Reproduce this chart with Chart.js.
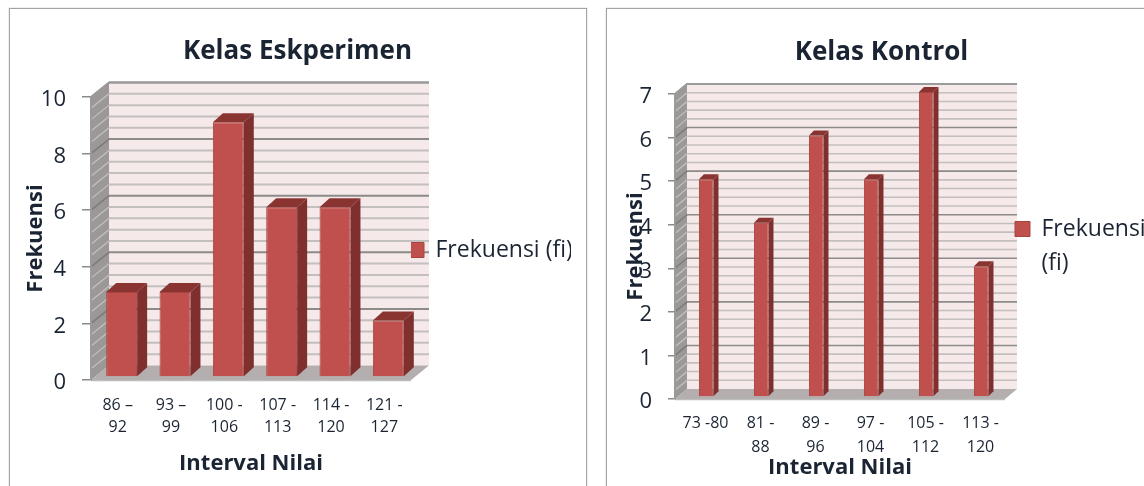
<!DOCTYPE html>
<html>
<head>
<meta charset="utf-8">
<title>Kelas Eskperimen dan Kelas Kontrol</title>
<script src="https://cdn.jsdelivr.net/npm/chart.js@4"></script>
<style>
  html, body { margin: 0; padding: 0; background: #fff; width: 1144px; height: 486px; overflow: hidden; }
  .frame { position: absolute; top: 8px; height: 500px; border: 1px solid #a3a3a3; box-shadow: 0 0 1px #a3a3a3; background: #fff; }
  canvas { position: absolute; top: 10px; filter: blur(0.35px); }
</style>
</head>
<body>
<div class="frame" style="left:9px;width:576px"></div>
<div class="frame" style="left:606px;width:600px"></div>
<canvas id="eksperimen" width="575" height="480" style="left:10px"></canvas>
<canvas id="kontrol" width="549" height="484" style="left:607px"></canvas>
<script>
// Kelas Eskperimen
const eksCategories = [["86 –", "92"], ["93 –", "99"], ["100 -", "106"], ["107 -", "113"], ["114 -", "120"], ["121 -", "127"]];
const eksValues = [3, 3, 9, 6, 6, 2];

// Kelas Kontrol
const konCategories = ["73 -80", ["81 -", "88"], ["89 -", "96"], ["97 -", "104"], ["105 -", "112"], ["113 -", "120"]];
const konValues = [5, 4, 6, 5, 7, 3];

const textColor = "#1b2433";
const fontName = "'Open Sans', Lato, sans-serif";

// Draws the walls and floor under everything, and the bar sides and tops after the bars
const box3d = {
  id: "box3d",
  beforeDraw(chart, args, opts) {
    const ctx = chart.ctx;
    const area = chart.chartArea;
    const y = chart.scales.y;
    const dx = opts.wallX;
    const dy = opts.wallY;

    function poly(points, fill) {
      ctx.beginPath();
      points.forEach((p, i) => (i ? ctx.lineTo(p[0], p[1]) : ctx.moveTo(p[0], p[1])));
      ctx.closePath();
      ctx.fillStyle = fill;
      ctx.fill();
    }

    ctx.save();
    // back wall
    poly([[area.left + dx, area.top - dy], [area.right + dx, area.top - dy], [area.right + dx, area.bottom - dy], [area.left + dx, area.bottom - dy]], "#f5e9e9");
    // left wall
    poly([[area.left, area.top], [area.left + dx, area.top - dy], [area.left + dx, area.bottom - dy], [area.left, area.bottom]], "#9c9898");

    // grid lines on both walls
    for (let v = y.max; v > 0.001; v -= opts.minorStep) {
      const py = y.getPixelForValue(v);
      const isMajor = Math.abs(v / y.options.ticks.stepSize - Math.round(v / y.options.ticks.stepSize)) < 0.001;
      ctx.lineWidth = opts.lineWidth;
      ctx.strokeStyle = isMajor ? "#8d8a8a" : "#c3bfbf";
      ctx.beginPath();
      ctx.moveTo(area.left + dx, py - dy);
      ctx.lineTo(area.right + dx, py - dy);
      ctx.stroke();
      ctx.strokeStyle = isMajor ? "#7d7a7a" : "#c4c1c1";
      ctx.lineWidth = isMajor ? 1.5 : 1.2;
      ctx.beginPath();
      ctx.moveTo(area.left, py);
      ctx.lineTo(area.left + dx, py - dy);
      ctx.stroke();
    }

    // floor
    poly([[area.left, area.bottom], [area.right, area.bottom], [area.right + dx, area.bottom - dy], [area.left + dx, area.bottom - dy]], "#b5aeae");
    ctx.strokeStyle = "#bdbdbd";
    ctx.lineWidth = 1.5;
    ctx.beginPath();
    ctx.moveTo(area.left, area.bottom + 0.5);
    ctx.lineTo(area.right, area.bottom + 0.5);
    ctx.stroke();
    // top edge of the back wall
    ctx.strokeStyle = "#9b9b9b";
    ctx.lineWidth = 2;
    ctx.beginPath();
    ctx.moveTo(area.left, area.top);
    ctx.lineTo(area.left + dx, area.top - dy);
    ctx.lineTo(area.right + dx, area.top - dy);
    ctx.stroke();
    ctx.restore();
  },
  beforeDatasetsDraw(chart, args, opts) {
    // the bars stand a little behind the front edge of the floor
    chart.ctx.save();
    chart.ctx.translate(opts.barShiftX, -opts.barShiftY);
  },
  afterDatasetsDraw(chart, args, opts) {
    const ctx = chart.ctx;
    const dx = opts.barX;
    const dy = opts.barY;
    chart.getDatasetMeta(0).data.forEach(function (bar) {
      const left = bar.x - bar.width / 2;
      const right = bar.x + bar.width / 2;
      ctx.fillStyle = "#7f302e";
      ctx.beginPath();
      ctx.moveTo(right, bar.y);
      ctx.lineTo(right + dx, bar.y - dy);
      ctx.lineTo(right + dx, bar.base - dy);
      ctx.lineTo(right, bar.base);
      ctx.closePath();
      ctx.fill();
      ctx.fillStyle = "#8a3432";
      ctx.beginPath();
      ctx.moveTo(left, bar.y);
      ctx.lineTo(left + dx, bar.y - dy);
      ctx.lineTo(right + dx, bar.y - dy);
      ctx.lineTo(right, bar.y);
      ctx.closePath();
      ctx.fill();
    });
    ctx.restore();
  },
};

function makeChart(id, c) {
  return new Chart(document.getElementById(id), {
    type: "bar",
    data: {
      labels: c.categories,
      datasets: [{
        label: c.legend,
        data: c.values,
        backgroundColor: "#c0504d",
        borderColor: "#a8423f",
        borderWidth: 1,
        barPercentage: c.barPercentage,
        categoryPercentage: 1,
        clip: false,
      }],
    },
    plugins: [box3d],
    options: {
      responsive: false,
      animation: false,
      layout: { padding: { left: c.sidePad, right: c.sidePad } },
      plugins: {
        tooltip: { enabled: false },
        title: {
          display: true,
          text: c.title,
          color: textColor,
          font: { family: fontName, size: 26, weight: "bold", lineHeight: 1.2 },
          padding: { top: c.titleTop, bottom: c.titleBottom },
        },
        legend: {
          position: "right",
          maxWidth: c.legendWidth,
          labels: {
            boxWidth: 15,
            boxHeight: 15,
            padding: c.legendPad,
            color: textColor,
            font: { family: fontName, size: 23, lineHeight: 1.5 },
          },
        },
        box3d: c.box,
      },
      scales: {
        x: {
          afterFit(scale) { scale.height = c.xHeight; },
          grid: { display: false },
          border: { display: false },
          ticks: {
            color: textColor,
            font: { family: fontName, size: 16, lineHeight: c.xLine },
            padding: c.xTickPad,
            labelOffset: c.xLabelOffset,
            maxRotation: 0,
            minRotation: 0,
            autoSkip: false,
          },
          title: {
            display: true,
            text: "Interval Nilai",
            color: textColor,
            font: { family: fontName, size: 22, weight: "bold", lineHeight: 1.2 },
            padding: { top: 0, bottom: c.xTitlePad },
          },
        },
        y: {
          min: 0,
          max: c.yMax,
          afterFit(scale) { scale.width = c.yWidth; },
          grid: { drawOnChartArea: false, color: "#8a8a8a", tickLength: c.tickLength, lineWidth: 1.5 },
          border: { color: "#9a9a9a", width: 2 },
          ticks: {
            stepSize: c.yStep,
            color: textColor,
            padding: 16,
            labelOffset: 3,
            font: { family: fontName, size: 22 },
          },
          title: {
            display: true,
            text: "Frekuensi",
            color: textColor,
            font: { family: fontName, size: 22, weight: "bold", lineHeight: 1.2 },
            padding: { top: c.yTitlePad, bottom: 0 },
          },
        },
      },
    },
  });
}

document.addEventListener("DOMContentLoaded", function () {
  makeChart("eksperimen", {
    categories: eksCategories,
    values: eksValues,
    title: "Kelas Eskperimen",
    legend: "Frekuensi (fi)",
    barPercentage: 0.58,
    sidePad: 14,
    legendWidth: 160,
    legendPad: -2,
    titleTop: 26.4,
    titleBottom: 29.4,
    xHeight: 110,
    xLine: 1.4,
    xTickPad: 6,
    xLabelOffset: 0,
    xTitlePad: 12.8,
    yMax: 10,
    yStep: 2,
    yWidth: 67,
    tickLength: 9,
    yTitlePad: -1,
    box: { wallX: 18, wallY: 14.5, barX: 10, barY: 9, barShiftX: 4, barShiftY: 3, minorStep: 0.4, lineWidth: 2 },
  });

  makeChart("kontrol", {
    categories: konCategories,
    values: konValues,
    title: "Kelas Kontrol",
    legend: ["Frekuensi", "(fi)"],
    barPercentage: 0.265,
    sidePad: 11,
    legendWidth: 140,
    legendPad: 10,
    titleTop: 27.4,
    titleBottom: 25.4,
    xHeight: 95,
    xLine: 1.5,
    xTickPad: 4,
    xLabelOffset: 3,
    xTitlePad: 12.8,
    yMax: 7,
    yStep: 1,
    yWidth: 57,
    tickLength: 7,
    yTitlePad: 4.8,
    box: { wallX: 12, wallY: 10, barX: 5, barY: 5, barShiftX: 3.7, barShiftY: 2, minorStep: 0.2, lineWidth: 1.6 },
  });
});
</script>
</body>
</html>
